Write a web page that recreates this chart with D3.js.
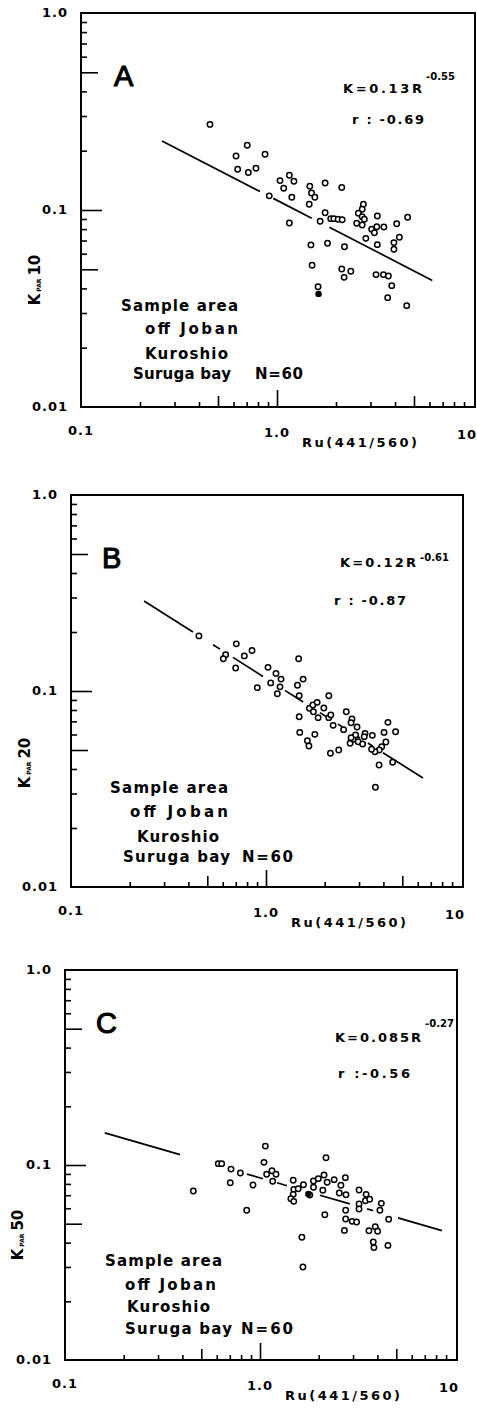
<!DOCTYPE html>
<html>
<head>
<meta charset="utf-8">
<script src="https://cdn.jsdelivr.net/npm/d3@7"></script>
<style>
  body { margin: 0; background: #fff; }
  svg { display: block; }
  text { font-family: "DejaVu Sans", sans-serif; font-weight: bold; fill: #000; }
</style>
</head>
<body>
<svg id="canvas"></svg>
<script>
// ---- data (R = Ru(441/560), K = Kpar) ----
const xTickLabels = ["0.1", "1.0", "10"];
const xTickValues = [0.1, 1, 10];
const yTickLabels = ["0.01", "0.1", "1.0"];
const yTickValues = [0.01, 0.1, 1];

const xMinor = [0.2, 0.3, 0.4, 0.6, 0.7, 0.8, 0.9, 2, 3, 4, 6, 7, 8, 9];
const xMid = [0.5, 5];
const xMajor = [1];
const yMinor = [0.02, 0.03, 0.04, 0.06, 0.07, 0.08, 0.09, 0.2, 0.3, 0.4, 0.6, 0.7, 0.8, 0.9];
const yMid = [0.05, 0.5];
const yMajor = [0.1];

const panelLetters = ["A", "B", "C"];
const depthLabels = ["10", "20", "50"];
const eqMain = ["K=0.13R", "K=0.12R", "K=0.085R"];
const eqExp = ["-0.55", "-0.61", "-0.27"];
const corrText = ["r : -0.69", "r : -0.87", "r :-0.56"];
const areaLines = ["Sample area", "off Joban", "Kuroshio", "Suruga bay", "N=60"];
const xTitle = "Ru(441/560)";

const pointsA = [
  [0.455, 0.272], [0.705, 0.213], [0.618, 0.188], [0.869, 0.192], [0.63, 0.161],
  [0.714, 0.155], [0.781, 0.163], [0.913, 0.118], [1.036, 0.141], [1.156, 0.15],
  [1.22, 0.14], [1.082, 0.129], [1.19, 0.116], [1.156, 0.0859], [1.47, 0.132],
  [1.5, 0.122], [1.56, 0.116], [1.46, 0.107], [1.76, 0.137], [2.14, 0.13],
  [1.76, 0.0969], [1.66, 0.0877], [1.88, 0.0904], [1.95, 0.0904], [2.05, 0.0897],
  [2.15, 0.0893], [1.49, 0.0665], [1.81, 0.0678], [2.21, 0.0651], [1.51, 0.0524],
  [1.62, 0.0408], [2.14, 0.0502], [2.2, 0.0455], [2.38, 0.0489], [2.76, 0.107],
  [2.72, 0.101], [2.6, 0.0962], [2.72, 0.0925], [2.79, 0.0897], [2.55, 0.0856],
  [2.72, 0.0839], [3.25, 0.0932], [3.04, 0.0798], [3.23, 0.0822], [3.14, 0.0767],
  [3.51, 0.082], [2.84, 0.0718], [3.25, 0.0667], [4.08, 0.0852], [4.64, 0.0918],
  [4.21, 0.0727], [3.95, 0.0683], [3.95, 0.0632], [3.2, 0.047], [3.49, 0.047],
  [3.7, 0.0462], [3.85, 0.0413], [3.67, 0.0359], [4.59, 0.0327]
];
const filledA = [[1.63, 0.0375]];

const pointsB = [
  [0.453, 0.191], [0.704, 0.174], [0.621, 0.153], [0.604, 0.146], [0.774, 0.151],
  [0.848, 0.161], [0.699, 0.131], [0.902, 0.104], [1.024, 0.132], [1.125, 0.123],
  [1.194, 0.115], [1.057, 0.11], [1.18, 0.105], [1.143, 0.0969], [1.47, 0.146],
  [1.55, 0.115], [1.45, 0.107], [1.48, 0.0946], [1.48, 0.0739], [1.49, 0.0615],
  [1.63, 0.0557], [1.66, 0.0524], [1.78, 0.0601], [1.67, 0.0816], [1.74, 0.0849],
  [1.83, 0.0875], [1.75, 0.0784], [1.85, 0.0731], [1.98, 0.0819], [2.1, 0.0946],
  [2.1, 0.0731], [2.15, 0.0755], [2.21, 0.0668], [2.58, 0.0784], [2.76, 0.072],
  [2.73, 0.0689], [2.5, 0.0635], [2.36, 0.05], [2.14, 0.0481], [2.7, 0.0541],
  [2.8, 0.0567], [2.97, 0.0551], [3.13, 0.0537], [3.22, 0.0608], [3.19, 0.0585],
  [3.51, 0.0594], [4.22, 0.0692], [4.62, 0.062], [4.03, 0.0615], [4.12, 0.0549],
  [3.92, 0.052], [3.81, 0.05], [3.62, 0.049], [3.48, 0.0504], [3.8, 0.0419],
  [4.46, 0.0433], [3.64, 0.0323], [2.88, 0.0597], [2.73, 0.0578], [2.93, 0.0655]
];
const filledB = [];

const pointsC = [
  [0.455, 0.0736], [0.611, 0.1016], [0.636, 0.1016], [0.71, 0.0953], [0.793, 0.091],
  [0.704, 0.0811], [0.921, 0.0789], [0.855, 0.0586], [1.065, 0.125], [1.048, 0.1032],
  [1.082, 0.0896], [1.152, 0.0935], [1.208, 0.0896], [1.162, 0.0825], [1.48, 0.0835],
  [1.49, 0.075], [1.57, 0.0756], [1.48, 0.0707], [1.44, 0.0671], [1.49, 0.0651],
  [1.67, 0.0792], [1.8, 0.0702], [1.88, 0.0828], [1.99, 0.0851], [2.13, 0.0889],
  [1.88, 0.0769], [2.1, 0.0742], [2.21, 0.0815], [2.4, 0.0841], [2.18, 0.109],
  [2.6, 0.0787], [2.74, 0.0861], [2.55, 0.0718], [2.76, 0.0704], [2.15, 0.0556],
  [1.64, 0.0426], [1.66, 0.03], [2.75, 0.0586], [2.75, 0.0529], [2.97, 0.0514],
  [3.13, 0.051], [2.71, 0.0462], [3.22, 0.0744], [3.5, 0.0707], [3.47, 0.0656],
  [3.65, 0.0667], [3.22, 0.0631], [3.22, 0.0595], [4.19, 0.0636], [4.12, 0.0586],
  [4.57, 0.0527], [3.62, 0.046], [3.9, 0.0483], [4.01, 0.0457], [3.81, 0.0403],
  [3.84, 0.0377], [4.53, 0.0387]
];
const filledC = [[1.77, 0.071]];

// regression line as drawn: K = a * R^b, broken into pieces (R ranges)
const fitA = { a: 0.112, b: -0.513 };
const fitB = { a: 0.116, b: -0.632 };
const fitC = { a: 0.0859, b: -0.29 };
const piecesA = [[0.259, 0.819], [0.957, 1.503], [1.85, 6.2]];
const piecesB = [[0.237, 0.422], [0.535, 0.581], [0.677, 0.965], [1.25, 1.55],
  [1.89, 2.06], [2.34, 2.54], [2.79, 3.03], [3.33, 3.53], [3.98, 6.38]];
const piecesC = [[0.16, 0.389], [0.858, 1.036], [1.222, 1.375], [2.03, 2.89],
  [3.54, 3.8], [5.1, 8.57]];

function getChartConfig() {
  let canvasWidth = 477,
    canvasHeight = 1413;
  let svg = d3.select("#canvas");
  svg.attr("width", canvasWidth).attr("height", canvasHeight);

  // plot boxes for the three panels + where their annotations sit
  let panels = [
    {
      x0: 81, x1: 473, y0: 13, y1: 407,
      letter: [114, 86], eq: [343, 93], exp: [426, 80], corr: [352, 124],
      ylab: [40, 280],
      area: [[121, 311, 117], [145, 334, 93], [145, 359, 83], [133, 379, 98], [255, 379, 48]],
    },
    {
      x0: 71, x1: 461, y0: 495, y1: 887,
      letter: [102, 568], eq: [340, 567], exp: [420, 561], corr: [334, 605],
      ylab: [30, 763],
      area: [[110, 793, 118], [130, 817, 98], [137, 842, 82], [123, 862, 107], [242, 862, 51]],
    },
    {
      x0: 65, x1: 455, y0: 970, y1: 1360,
      letter: [96, 1033], eq: [335, 1042], exp: [425, 1027], corr: [338, 1078],
      ylab: [23, 1235],
      area: [[105, 1266, 117], [125, 1290, 91], [127, 1312, 83], [125, 1334, 107], [241, 1334, 52]],
    },
  ];
  return { canvasWidth, canvasHeight, svg, panels };
}

function drawTicks(g, axis, values, len) {
  g.call(axis.tickValues(values).tickSize(-len).tickFormat(""));
  g.select(".domain").remove();
  g.selectAll(".tick line").attr("stroke", "#000").attr("stroke-width", 1.6);
}

function drawPanel(svg, p, i, points, filled, fit, pieces) {
  let xScale = d3.scaleLog().domain([0.1, 10]).range([p.x0, p.x1]);
  let yScale = d3.scaleLog().domain([0.01, 1]).range([p.y1, p.y0]);

  let g = svg.append("g").attr("class", "panel-" + panelLetters[i]);

  // frame
  g.append("rect")
    .attr("x", p.x0)
    .attr("y", p.y0)
    .attr("width", p.x1 - p.x0 + 2)
    .attr("height", p.y1 - p.y0)
    .attr("fill", "none")
    .attr("stroke", "#000")
    .attr("stroke-width", 2);

  // ticks pointing into the box
  let gx = g.append("g").attr("transform", `translate(0,${p.y1})`);
  drawTicks(gx.append("g"), d3.axisBottom(xScale), xMinor, 5);
  drawTicks(gx.append("g"), d3.axisBottom(xScale), xMid, 11);
  drawTicks(gx.append("g"), d3.axisBottom(xScale), xMajor, 17);

  let gy = g.append("g").attr("transform", `translate(${p.x0},0)`);
  drawTicks(gy.append("g"), d3.axisLeft(yScale), yMinor, 6);
  drawTicks(gy.append("g"), d3.axisLeft(yScale), yMid, 17);
  drawTicks(gy.append("g"), d3.axisLeft(yScale), yMajor, 21);

  // tick labels
  g.selectAll(".xlab")
    .data(xTickValues)
    .enter()
    .append("text")
    .attr("x", (d) => xScale(d) + (d === 10 ? -6 : 0))
    .attr("y", (d, j) => p.y1 + 28 + j * 2)
    .attr("text-anchor", "middle")
    .style("font-size", "13px")
    .style("letter-spacing", "1px")
    .text((d, j) => xTickLabels[j]);

  g.selectAll(".ylab")
    .data(yTickValues)
    .enter()
    .append("text")
    .attr("x", p.x0 - 13)
    .attr("y", (d) => yScale(d) + 4)
    .attr("text-anchor", "end")
    .style("font-size", "13px")
    .style("letter-spacing", "1px")
    .text((d, j) => yTickLabels[j]);

  // axis titles
  g.append("text")
    .attr("x", xScale(1) + 25)
    .attr("y", p.y1 + 40)
    .style("font-size", "13px")
    .attr("textLength", 115)
    .attr("lengthAdjust", "spacing")
    .text(xTitle);

  let yl = g.append("text")
    .attr("transform", `translate(${p.ylab[0]},${p.ylab[1]}) rotate(-90)`)
    .attr("text-anchor", "middle");
  yl.append("tspan").style("font-size", "15px").text("K");
  yl.append("tspan").style("font-size", "6px").attr("dx", 2).attr("dy", 1).text("PAR");
  yl.append("tspan").style("font-size", "15px").attr("dx", 3).attr("dy", -1).text(depthLabels[i]);

  // regression line pieces
  const lineGen = d3
    .line()
    .x((d) => xScale(d))
    .y((d) => yScale(fit.a * Math.pow(d, fit.b)));

  g.selectAll(".fit")
    .data(pieces)
    .enter()
    .append("path")
    .attr("d", lineGen)
    .attr("fill", "none")
    .attr("stroke", "#000")
    .attr("stroke-width", 1.7);

  // points
  g.selectAll(".pt")
    .data(points)
    .enter()
    .append("circle")
    .attr("cx", (d) => xScale(d[0]))
    .attr("cy", (d) => yScale(d[1]))
    .attr("r", 2.7)
    .attr("fill", "#fff")
    .attr("stroke", "#000")
    .attr("stroke-width", 1.5);

  g.selectAll(".ptf")
    .data(filled)
    .enter()
    .append("circle")
    .attr("cx", (d) => xScale(d[0]))
    .attr("cy", (d) => yScale(d[1]))
    .attr("r", 3.2)
    .attr("fill", "#000");

  // annotations
  g.append("text")
    .attr("x", p.letter[0])
    .attr("y", p.letter[1])
    .style("font-family", "'Liberation Sans', Arial, sans-serif")
    .style("font-weight", "normal")
    .style("font-size", "29px")
    .attr("stroke", "#000")
    .attr("stroke-width", 1.1)
    .text(panelLetters[i]);

  g.append("text")
    .attr("x", p.eq[0])
    .attr("y", p.eq[1])
    .style("font-size", "13px")
    .attr("textLength", p.exp[0] - p.eq[0] - 4)
    .attr("lengthAdjust", "spacing")
    .text(eqMain[i]);

  g.append("text")
    .attr("x", p.exp[0])
    .attr("y", p.exp[1])
    .style("font-size", "10px")
    .attr("textLength", 29)
    .attr("lengthAdjust", "spacing")
    .text(eqExp[i]);

  g.append("text")
    .attr("x", p.corr[0])
    .attr("y", p.corr[1])
    .style("font-size", "13px")
    .attr("textLength", 72)
    .attr("lengthAdjust", "spacing")
    .text(corrText[i]);

  g.selectAll(".area")
    .data(p.area)
    .enter()
    .append("text")
    .attr("x", (d) => d[0])
    .attr("y", (d) => d[1])
    .attr("textLength", (d) => d[2])
    .attr("lengthAdjust", "spacing")
    .style("font-size", "15px")
    .text((d, j) => areaLines[j]);
}

function showData() {
  let config = getChartConfig();
  let { svg, panels } = config;
  svg.append("rect").attr("width", 477).attr("height", 1413).attr("fill", "#fff");
  drawPanel(svg, panels[0], 0, pointsA, filledA, fitA, piecesA);
  drawPanel(svg, panels[1], 1, pointsB, filledB, fitB, piecesB);
  drawPanel(svg, panels[2], 2, pointsC, filledC, fitC, piecesC);
}

showData();
</script>
</body>
</html>
